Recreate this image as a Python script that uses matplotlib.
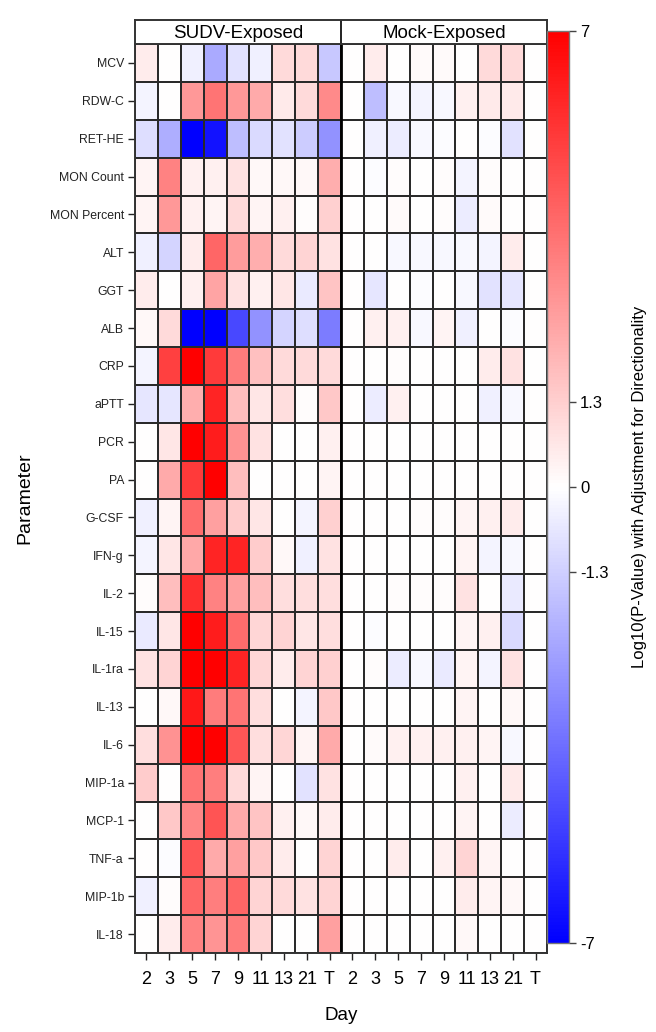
import numpy as np
import matplotlib
matplotlib.use("Agg")
import matplotlib.pyplot as plt

plt.rcParams['font.family'] = ['Liberation Sans', 'DejaVu Sans']
plt.rcParams['axes.unicode_minus'] = False

days = ["2", "3", "5", "7", "9", "11", "13", "21", "T"]
params = ["MCV", "RDW-C", "RET-HE", "MON Count", "MON Percent", "ALT", "GGT", "ALB",
          "CRP", "aPTT", "PCR", "PA", "G-CSF", "IFN-g", "IL-2", "IL-15", "IL-1ra",
          "IL-13", "IL-6", "MIP-1a", "MCP-1", "TNF-a", "MIP-1b", "IL-18"]
groups = ["SUDV-Exposed", "Mock-Exposed"]

sudv = [
    [0.5, 0.0, -0.4, -2.3, -0.8, -0.4, 1.0, 1.0, -1.5],
    [-0.3, 0.0, 2.8, 3.8, 2.8, 2.3, 0.6, 1.0, 3.2],
    [-0.9, -2.2, -7.0, -6.5, -1.8, -1.0, -0.8, -1.4, -3.0],
    [0.3, 3.4, 0.4, 0.4, 0.8, 0.2, 0.2, 0.2, 2.2],
    [0.3, 2.8, 0.4, 0.3, 1.0, 0.3, 0.4, 0.1, 1.3],
    [-0.4, -1.2, 0.5, 4.2, 2.7, 2.2, 1.0, 1.2, 0.8],
    [0.5, 0.0, 0.4, 2.5, 0.8, 0.4, 0.7, -0.6, 1.6],
    [0.2, 1.0, -7.0, -7.0, -5.0, -3.0, -1.2, -0.9, -3.6],
    [-0.3, 5.2, 7.0, 5.4, 3.6, 1.7, 1.0, 1.0, 1.0],
    [-0.7, -0.7, 2.2, 6.0, 1.8, 0.7, 0.9, 0.1, 1.5],
    [0.0, 0.7, 7.0, 6.2, 3.0, 0.8, 0.0, 0.0, 0.4],
    [0.0, 2.3, 5.4, 7.0, 1.8, 0.0, 0.0, 0.0, 0.3],
    [-0.4, 0.3, 4.0, 2.6, 1.4, 0.7, 0.0, -0.3, 1.3],
    [-0.3, 0.7, 2.4, 6.0, 6.0, 1.4, 0.2, -0.4, 0.8],
    [0.1, 1.8, 5.7, 3.4, 2.6, 1.8, 0.9, 0.9, 0.9],
    [-0.6, 0.7, 7.0, 6.2, 4.0, 1.1, 1.2, 0.7, 0.9],
    [0.8, 1.2, 7.0, 7.0, 6.0, 1.1, 0.5, 1.2, 1.3],
    [0.0, 0.2, 6.3, 3.6, 3.8, 0.9, 0.0, -0.3, 1.5],
    [0.9, 3.0, 7.0, 7.0, 4.6, 0.9, 1.1, 0.3, 2.3],
    [1.4, 0.0, 3.8, 3.5, 1.0, 0.3, 0.0, -0.8, 0.8],
    [0.0, 1.5, 3.3, 4.7, 2.3, 1.6, 0.4, 0.2, 0.5],
    [0.0, -0.1, 4.6, 2.3, 2.6, 1.5, 0.5, 0.0, 1.2],
    [-0.4, 0.1, 4.2, 3.5, 4.2, 1.2, 1.0, 0.8, 1.2],
    [0.0, 0.5, 3.4, 2.9, 3.6, 1.2, 0.0, 0.0, 2.6],
]

mock = [
    [0.0, 0.5, 0.0, 0.15, 0.15, 0.0, 1.0, 1.0, 0.0],
    [0.0, -1.8, -0.2, -0.3, -0.2, 0.4, 0.6, 0.6, 0.0],
    [0.0, -0.4, -0.5, -0.2, -0.1, 0.0, -0.1, -0.8, 0.0],
    [0.0, -0.1, 0.1, 0.0, 0.1, -0.3, 0.1, 0.0, 0.0],
    [0.0, 0.0, 0.15, 0.0, 0.1, -0.5, 0.15, 0.0, 0.0],
    [0.0, 0.0, -0.2, -0.2, -0.2, -0.2, -0.3, 0.5, 0.0],
    [0.0, -0.7, 0.0, -0.1, 0.0, -0.2, -0.8, -0.7, 0.0],
    [0.0, 0.4, 0.4, -0.2, 0.3, -0.4, 0.0, -0.1, 0.0],
    [0.0, 0.0, 0.1, 0.0, 0.0, 0.0, 0.5, 0.8, 0.0],
    [0.0, -0.5, 0.4, 0.0, 0.0, 0.0, -0.4, -0.2, 0.0],
    [0.0, 0.0, 0.0, 0.0, 0.0, 0.0, 0.0, 0.0, 0.0],
    [0.0, 0.0, 0.0, 0.0, 0.0, 0.0, 0.0, 0.0, 0.0],
    [0.0, 0.0, 0.0, 0.1, 0.1, 0.3, 0.4, 0.5, 0.0],
    [0.0, 0.0, 0.0, 0.0, 0.0, 0.3, -0.3, -0.2, 0.0],
    [0.0, 0.0, 0.1, 0.1, 0.1, 0.8, 0.0, -0.6, 0.0],
    [0.0, -0.1, 0.0, 0.0, 0.0, 0.3, 0.4, -1.0, 0.0],
    [0.0, 0.1, -0.5, -0.2, -0.6, 0.3, -0.3, 0.8, 0.0],
    [0.0, 0.0, 0.0, 0.0, 0.0, 0.3, 0.0, 0.2, 0.0],
    [0.0, 0.15, 0.4, 0.4, 0.4, 0.4, 0.3, -0.2, 0.0],
    [0.0, 0.0, 0.0, 0.0, 0.0, 0.4, 0.0, 0.6, 0.0],
    [0.0, 0.0, 0.0, 0.05, 0.05, 0.3, 0.0, -0.5, 0.0],
    [0.0, 0.0, 0.5, 0.0, 0.4, 1.2, 0.3, 0.0, 0.0],
    [0.0, 0.0, 0.0, 0.0, 0.0, 0.5, 0.3, 0.2, 0.0],
    [0.0, 0.0, 0.0, 0.0, 0.0, 0.2, 0.0, 0.0, 0.0],
]

cbar_ticks = [-7, -1.3, 0, 1.3, 7]

W, H = 656, 1032
fig = plt.figure(figsize=(W / 100, H / 100), dpi=100)

def fx(px):
    return px / W

def fy(py):
    return 1 - py / H

gl, gr, gt, gb = 135, 547, 44, 953
ax = fig.add_axes([fx(gl), fy(gb), fx(gr - gl), fy(gt) - fy(gb)])

data = np.hstack([np.array(sudv), np.array(mock)])
nrow, ncol = data.shape
mesh = ax.pcolormesh(np.arange(ncol + 1), np.arange(nrow + 1), data,
                     cmap='bwr', vmin=-7, vmax=7,
                     edgecolors='#2a2a2a', linewidth=1.2)
ax.set_xlim(0, ncol)
ax.set_ylim(nrow, 0)
ax.axvline(len(days), color='black', linewidth=2.0)

ax.set_yticks(np.arange(nrow) + 0.5)
ax.set_yticklabels(params, fontsize=8.8, color='#222222')
ax.set_xticks(np.arange(ncol) + 0.5)
ax.set_xticklabels(days * 2, fontsize=13)
ax.tick_params(axis='both', length=5, width=1.0, color='#222222')
ax.tick_params(axis='x', pad=8)
ax.tick_params(axis='y', pad=3)
for s in ax.spines.values():
    s.set_linewidth(1.4)
    s.set_color('#333333')
ax.set_xlabel("Day", fontsize=13.5, labelpad=14)
ax.set_ylabel("Parameter", fontsize=14, labelpad=12)

# header strip
hax = fig.add_axes([fx(gl), fy(gt), fx(gr - gl), fy(20) - fy(gt)])
hax.set_xlim(0, ncol)
hax.set_ylim(0, 1)
hax.set_xticks([])
hax.set_yticks([])
for s in hax.spines.values():
    s.set_linewidth(1.4)
    s.set_color('#333333')
hax.axvline(len(days), color='#222222', linewidth=1.4)
for i, g in enumerate(groups):
    hax.text(len(days) * i + len(days) / 2, 0.45, g, ha='center', va='center',
             fontsize=13.5)

# colorbar
cax = fig.add_axes([fx(547), fy(943), fx(569 - 547), fy(31) - fy(943)])
cb = fig.colorbar(mesh, cax=cax, ticks=cbar_ticks)
cb.ax.set_yticklabels(["-7", "-1.3", "0", "1.3", "7"], fontsize=12)
cb.ax.tick_params(length=5, width=1.0, color='#444444', pad=3)
cb.outline.set_edgecolor('#777777')
cb.outline.set_linewidth(1.0)
cb.set_label("Log10(P-Value) with Adjustment for Directionality", fontsize=12,
             labelpad=17)

fig.savefig("out.png", dpi=100)
